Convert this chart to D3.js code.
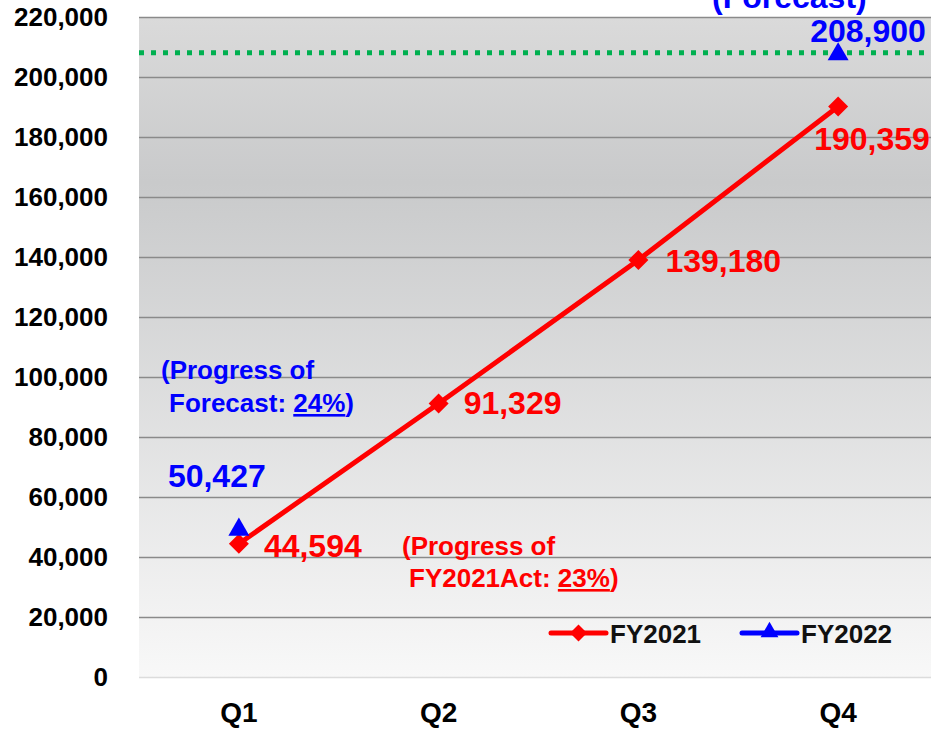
<!DOCTYPE html>
<html>
<head>
<meta charset="utf-8">
<script src="https://cdn.jsdelivr.net/npm/d3@7"></script>
<style>
  body { margin: 0; background: #fff; }
  svg { display: block; font-family: "Liberation Sans", Arial, sans-serif; font-weight: bold; }
</style>
</head>
<body>
<script>
// chart data
const quarters = ['Q1', 'Q2', 'Q3', 'Q4'];
const fy2021 = [44594, 91329, 139180, 190359];
const fy2022 = [{ q: 'Q1', v: 50427 }, { q: 'Q4', v: 208900 }];
const forecast = 208900;
const yTicks = [0, 20000, 40000, 60000, 80000, 100000, 120000, 140000, 160000, 180000, 200000, 220000];

const W = 931, H = 730;
const margin = { top: 17.5, right: -7, bottom: 52.5, left: 139 };
const width = W - margin.left - margin.right;
const height = H - margin.top - margin.bottom;

const svg = d3.select('body').append('svg')
  .attr('width', W)
  .attr('height', H);

// background gradient of the plot area
const grad = svg.append('defs').append('linearGradient')
  .attr('id', 'bg').attr('x1', 0).attr('y1', 0).attr('x2', 0).attr('y2', 1);
grad.append('stop').attr('offset', '0%').attr('stop-color', '#dadada');
grad.append('stop').attr('offset', '25%').attr('stop-color', '#c9cacb');
grad.append('stop').attr('offset', '100%').attr('stop-color', '#f8f8f8');

const g = svg.append('g')
  .attr('transform', 'translate(' + margin.left + ',' + margin.top + ')');

const x = d3.scaleBand().domain(quarters).range([0, width]);
const y = d3.scaleLinear().domain([0, 220000]).range([height, 0]);
const cx = function (q) { return x(q) + x.bandwidth() / 2; };

g.append('rect')
  .attr('width', width)
  .attr('height', height)
  .attr('fill', 'url(#bg)');

// gridlines
g.selectAll('.grid')
  .data(yTicks)
  .enter().append('line')
  .attr('x1', 0).attr('x2', width)
  .attr('y1', function (d) { return y(d); })
  .attr('y2', function (d) { return y(d); })
  .attr('stroke', function (d) { return d === 0 ? '#dcdcdc' : '#8a8a8a'; })
  .attr('stroke-width', 1.5);

// y axis labels
const yAxis = d3.axisLeft(y)
  .tickValues(yTicks)
  .tickFormat(d3.format(','))
  .tickSize(0)
  .tickPadding(31);
g.append('g')
  .call(yAxis)
  .call(function (s) { s.select('.domain').remove(); })
  .selectAll('text')
  .attr('font-size', 26)
  .attr('font-family', '"Liberation Sans", Arial, sans-serif')
  .attr('font-weight', 'bold')
  .attr('fill', '#000');

// x axis labels
const xAxis = d3.axisBottom(x).tickSize(0).tickPadding(25);
g.append('g')
  .attr('transform', 'translate(0,' + height + ')')
  .call(xAxis)
  .call(function (s) { s.select('.domain').remove(); })
  .selectAll('text')
  .attr('font-size', 28)
  .attr('font-family', '"Liberation Sans", Arial, sans-serif')
  .attr('font-weight', 'bold')
  .attr('fill', '#000');

// forecast dotted line
g.append('line')
  .attr('x1', 0).attr('x2', width)
  .attr('y1', y(forecast) + 2).attr('y2', y(forecast) + 2)
  .attr('stroke', '#00b050')
  .attr('stroke-width', 5)
  .attr('stroke-dasharray', '5,7');

// FY2021 line
const line = d3.line()
  .x(function (d, i) { return cx(quarters[i]); })
  .y(function (d) { return y(d); });
g.append('path')
  .datum(fy2021)
  .attr('d', line)
  .attr('fill', 'none')
  .attr('stroke', '#ff0000')
  .attr('stroke-width', 5);

const diamond = d3.symbol().type(d3.symbolSquare).size(200);
g.selectAll('.dia')
  .data(fy2021)
  .enter().append('path')
  .attr('d', diamond)
  .attr('transform', function (d, i) {
    return 'translate(' + cx(quarters[i]) + ',' + y(d) + ') rotate(45)';
  })
  .attr('fill', '#ff0000');

// FY2022 markers
const tri = d3.symbol().type(d3.symbolTriangle).size(190);
g.selectAll('.tri')
  .data(fy2022)
  .enter().append('path')
  .attr('d', tri)
  .attr('transform', function (d) { return 'translate(' + cx(d.q) + ',' + (y(d.v) + 3.5) + ')'; })
  .attr('fill', '#0000ff');

// value labels
const fmt = d3.format(',');
const redOffsets = [[25, 13], [25, 10], [27, 12], [-24, 44]];
g.selectAll('.vlab')
  .data(fy2021)
  .enter().append('text')
  .attr('x', function (d, i) { return cx(quarters[i]) + redOffsets[i][0]; })
  .attr('y', function (d, i) { return y(d) + redOffsets[i][1]; })
  .attr('font-size', 32)
  .attr('fill', '#ff0000')
  .text(function (d) { return fmt(d); });

const blueOffsets = [[-71, -39], [-28, -9]];
g.selectAll('.blab')
  .data(fy2022)
  .enter().append('text')
  .attr('x', function (d, i) { return cx(d.q) + blueOffsets[i][0]; })
  .attr('y', function (d, i) { return y(d.v) + blueOffsets[i][1]; })
  .attr('font-size', 32)
  .attr('fill', '#0000ff')
  .text(function (d) { return fmt(d.v); });

// annotations
svg.append('text')
  .attr('x', 712).attr('y', 8)
  .attr('font-size', 32)
  .attr('fill', '#0000ff')
  .text('(Forecast)');

const blueNote = svg.append('g').attr('fill', '#0000ff').attr('font-size', 26);
blueNote.append('text').attr('x', 161).attr('y', 379).text('(Progress of');
const bt = blueNote.append('text').attr('x', 169).attr('y', 412);
bt.append('tspan').text('Forecast: ');
bt.append('tspan').attr('text-decoration', 'underline').text('24%');
bt.append('tspan').text(')');

const redNote = svg.append('g').attr('fill', '#ff0000').attr('font-size', 26);
redNote.append('text').attr('x', 402).attr('y', 555).text('(Progress of');
const rt = redNote.append('text').attr('x', 409).attr('y', 587);
rt.append('tspan').text('FY2021Act: ');
rt.append('tspan').attr('text-decoration', 'underline').text('23%');
rt.append('tspan').text(')');

// legend
const legendData = [
  { name: 'FY2021', color: '#ff0000', sym: diamond, rot: 45, x: 551 },
  { name: 'FY2022', color: '#0000ff', sym: tri, rot: 0, x: 742 }
];
const legend = svg.selectAll('.legend')
  .data(legendData)
  .enter().append('g')
  .attr('transform', function (d) { return 'translate(' + d.x + ',633)'; });
legend.append('line')
  .attr('x1', 0).attr('x2', 55)
  .attr('stroke', function (d) { return d.color; })
  .attr('stroke-width', 5)
  .attr('stroke-linecap', 'round');
legend.append('path')
  .attr('d', function (d) { return d.sym(); })
  .attr('transform', function (d) { return 'translate(27.5,' + (d.rot ? 0 : -1) + ') rotate(' + d.rot + ') scale(0.85)'; })
  .attr('fill', function (d) { return d.color; });
legend.append('text')
  .attr('x', 59)
  .attr('y', 10)
  .attr('font-size', 26)
  .attr('fill', '#111')
  .text(function (d) { return d.name; });
</script>
</body>
</html>
